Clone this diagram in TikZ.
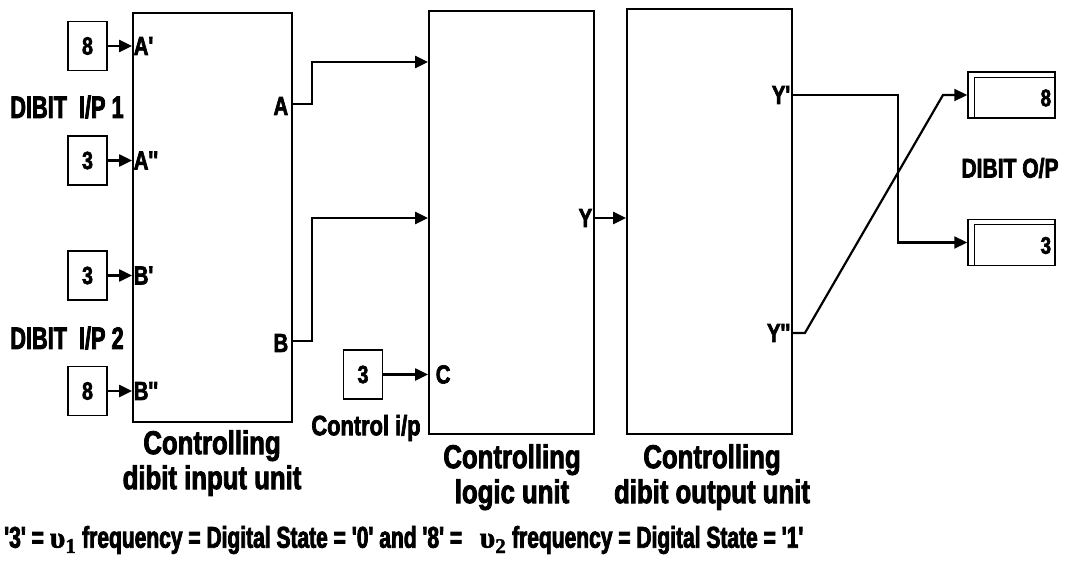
\documentclass[tikz,border=0pt]{standalone}
\usepackage{fontspec}
\usetikzlibrary{arrows.meta,calc}
\newfontfamily\lblfont{Liberation Sans}[FakeStretch=0.78,BoldFeatures={FakeBold=2.5}]
\newfontfamily\narrowfont{Liberation Sans}[FakeStretch=0.7,BoldFeatures={FakeBold=2.5}]
\newfontfamily\grkfont{Liberation Serif}[BoldFeatures={FakeBold=1.5}]
\begin{document}
\begin{tikzpicture}[x=1pt,y=-1pt,
  unit/.style={draw,line width=1.8pt,minimum width=#1,inner sep=0pt},
  srcbox/.style={draw,line width=1.5pt,minimum width=39pt,minimum height=49pt,inner sep=0pt,font=\lblfont\bfseries\fontsize{25}{27}\selectfont},
  dispbox/.style={draw,line width=1.5pt,minimum width=87pt,minimum height=46pt,inner sep=0pt},
  port/.style={font=\lblfont\bfseries\fontsize{26}{28}\selectfont,inner sep=1.5pt},
  biglbl/.style={font=\lblfont\bfseries\fontsize{33}{35}\selectfont,inner sep=0pt,align=center},
  wire/.style={line width=2.2pt},
  arr/.style={wire,-{Triangle[length=13pt,width=12pt]}},
]
\useasboundingbox (0,0) rectangle (1065,564);

% main processing units
\node[unit=159pt,minimum height=409pt] (inu) at (212.5,217.5) {};
\node[unit=165pt,minimum height=423pt] (logic) at (511.5,222.5) {};
\node[unit=165pt,minimum height=425pt] (outu) at (709.5,221.5) {};

% dibit input sources
\node[srcbox] (sa1) at (87.5,46) {8};
\node[srcbox] (sa2) at (87.5,160.5) {3};
\node[srcbox] (sb1) at (87.5,275.5) {3};
\node[srcbox] (sb2) at (87.5,391) {8};
\node[srcbox] (sc) at (363,374.5) {3};

\foreach \s/\t in {sa1/A',sa2/A'',sb1/B',sb2/B''}{
  \draw[arr] (\s.east) -- (\s.east -| inu.west);
  \node[port,anchor=west] at (\s.east -| inu.west) {\t};
}
\draw[arr] (sc.east) -- (sc.east -| logic.west);
\node[port,anchor=west] (lc) at ($(sc.east -| logic.west)+(6,0)$) {C};

\node[biglbl,font=\narrowfont\bfseries\fontsize{31}{33}\selectfont] at (67,107) {DIBIT\ \ I/P 1};
\node[biglbl,font=\narrowfont\bfseries\fontsize{31}{33}\selectfont] at (67,338) {DIBIT\ \ I/P 2};
\node[biglbl,font=\lblfont\bfseries\fontsize{28}{30}\selectfont] at (366,428) {Control i/p};

% outputs of the input unit
\coordinate (pA) at (inu.east |- 0,104);
\coordinate (pB) at (inu.east |- 0,341);
\node[port,anchor=east] at ($(pA)+(-3,2)$) {A};
\node[port,anchor=east] at ($(pB)+(-3,2)$) {B};
\draw[arr] (pA) -- ++(19,0) |- (logic.west |- 0,62);
\draw[arr] (pB) -- ++(19,0) |- (logic.west |- 0,218);

% logic unit to output unit
\coordinate (pY) at (logic.east |- 0,218);
\node[port,anchor=east] at ($(pY)+(-1,0)$) {Y};
\draw[arr] (pY) -- (pY -| outu.west);

% displays
\node[dispbox] (d1) at (1011.5,95) {};
\node[dispbox] (d2) at (1011.5,242.5) {};
\foreach \d/\v in {d1/8,d2/3}{
  \draw[line width=1.3pt] ($(\d.south west)+(7,0)$) -- ($(\d.north west)+(7,6)$) -- ($(\d.north east)+(0,6)$);
  \node[port,anchor=east,font=\lblfont\bfseries\fontsize{24}{26}\selectfont] at ($(\d.east)+(-3,3)$) {\v};
}
\node[biglbl,font=\lblfont\bfseries\fontsize{27}{29}\selectfont] at (1010,168) {DIBIT O/P};

% outputs of the output unit
\coordinate (pY1) at (outu.east |- 0,95);
\coordinate (pY2) at (outu.east |- 0,333);
\node[port,anchor=east] at ($(pY1)+(-1,0)$) {Y'};
\node[port,anchor=east] at ($(pY2)+(-1,0)$) {Y''};
\draw[arr] (pY1) -- (898,95) |- (d2.west);
\draw[arr] (pY2) -- ++(12,0) -- (943,95) -- (d1.west);

% unit captions
\node[biglbl,anchor=north] at (212,430) {Controlling\\[0pt]dibit input unit};
\node[biglbl,anchor=north] at (512,444) {Controlling\\[0pt]logic unit};
\node[biglbl,anchor=north] at (712,444) {Controlling\\[0pt]dibit output unit};

% legend
\node[biglbl,anchor=west,font=\narrowfont\bfseries\fontsize{30}{32}\selectfont] (leg) at (4,540)
 {'3' = {\grkfont υ\textsubscript{1}} frequency = Digital State = '0' and '8' =\ \ \ {\grkfont υ\textsubscript{2}} frequency = Digital State = '1'};
\end{tikzpicture}
\end{document}
